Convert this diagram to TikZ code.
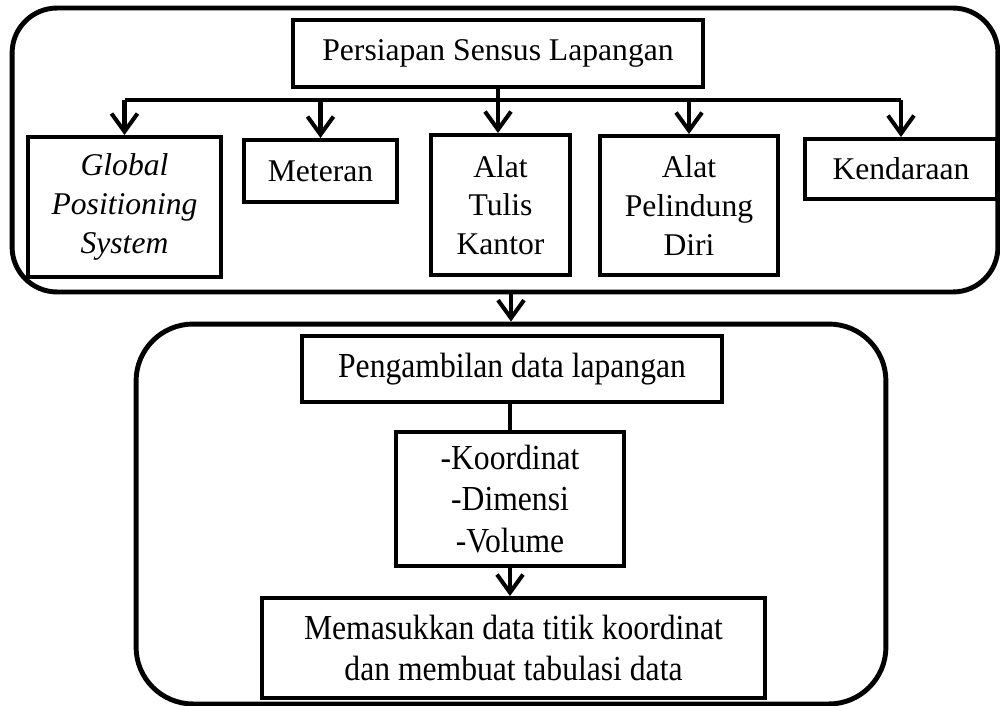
\documentclass[tikz,border=0pt]{standalone}
\usepackage{fontspec}
\setmainfont{Liberation Serif}
\newfontfamily\narrowserif[FakeStretch=0.9]{Liberation Serif}
\usepackage{tikz}
\usetikzlibrary{arrows.meta}

\tikzset{
  box/.style={draw, line width=2.3pt, inner sep=0pt, align=center,
    font=\fontsize{18}{22}\selectfont},
  lowbox/.style={box, font=\narrowserif\fontsize{20}{23.5}\selectfont},
  group/.style={draw, line width=2.8pt, rounded corners=#1, inner sep=0pt},
  arrow/.style={line width=2.3pt, -{Straight Barb[length=3.6mm,width=5.2mm,line width=2.3pt]}},
  link/.style={line width=2.3pt}
}

\begin{document}
\begin{tikzpicture}[x=0.02cm,y=-0.02cm]
      \useasboundingbox (0,0) rectangle (1000,706);
      % containers
      \node[group=0.9cm, minimum width=19.72cm, minimum height=5.68cm] (upper) at (505,150) {};
      \node[group=1.14cm, minimum width=15cm, minimum height=7.6cm] (lower) at (511,514) {};
      % upper part
      \node[box, minimum width=8.2cm, minimum height=1.34cm] (persiapan) at (498,53.5) {Persiapan Sensus Lapangan};
      \node[box, minimum width=3.86cm, minimum height=2.8cm] (gps) at (124.5,207) {\itshape Global\\ \itshape Positioning\\ \itshape System};
      \node[box, minimum width=3.06cm, minimum height=1.24cm] (meteran) at (320.5,171) {Meteran};
      \node[box, minimum width=2.78cm, minimum height=2.8cm] (atk) at (500.5,205) {Alat\\ Tulis\\ Kantor};
      \node[box, minimum width=3.56cm, minimum height=2.78cm] (apd) at (689,205.5) {Alat\\ Pelindung\\ Diri};
      \node[box, minimum width=3.84cm, minimum height=1.2cm] (kendaraan) at (901,169) {Kendaraan};
      \coordinate (bus) at (498,100);
      \draw[link] (persiapan.south -| bus) -- (bus);
      \draw[link] (gps.north |- bus) -- (kendaraan.north |- bus);
      \draw[arrow] (bus) -- (atk.north -| bus);
      \foreach \n in {gps,meteran,apd,kendaraan}
        \draw[arrow] (\n.north |- bus) -- (\n.north);
      % lower part
      \draw[arrow] (lower.north |- upper.south) -- (lower.north);
      \node[lowbox, minimum width=8.4cm, minimum height=1.32cm] (pengambilan) at (512,369) {Pengambilan data lapangan};
      \node[lowbox, minimum width=4.56cm, minimum height=2.68cm] (koordinat) at (510,499) {-Koordinat\\ -Dimensi\\ -Volume};
      \node[lowbox, minimum width=10.06cm, minimum height=2cm] (memasukkan) at (513.5,648) {Memasukkan data titik koordinat\\ dan membuat tabulasi data};
      \draw[link] (pengambilan.south -| koordinat.north) -- (koordinat.north);
      \draw[arrow] (koordinat.south) -- (memasukkan.north -| koordinat.south);
\end{tikzpicture}
\end{document}
